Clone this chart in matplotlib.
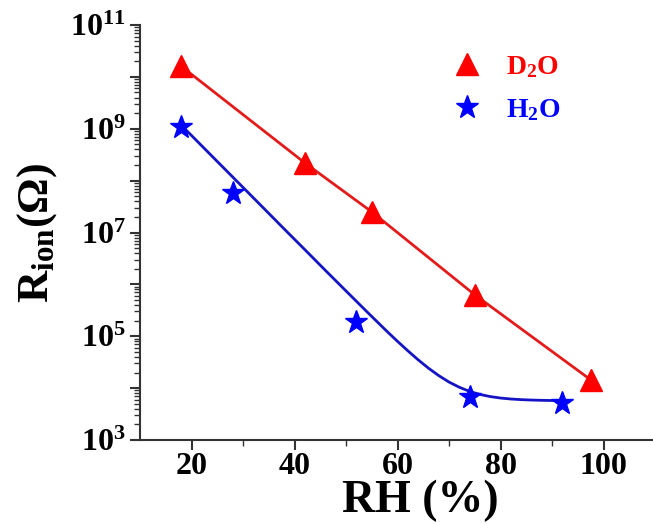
import numpy as np
import matplotlib
matplotlib.use("Agg")
import matplotlib.pyplot as plt
from matplotlib.ticker import LogLocator, FixedLocator, NullFormatter, FuncFormatter

plt.rcParams["font.family"] = ["Liberation Serif", "DejaVu Serif"]
plt.rcParams["font.weight"] = "bold"
plt.rcParams["mathtext.fontset"] = "custom"
plt.rcParams["mathtext.rm"] = "Liberation Serif:bold"
plt.rcParams["mathtext.bf"] = "Liberation Serif:bold"
plt.rcParams["mathtext.it"] = "Liberation Serif:bold"
plt.rcParams["mathtext.default"] = "bf"

# data
rh_d2o = [18, 42, 55, 75, 97.5]
r_d2o = [1.6e10, 2.2e8, 2.5e7, 6.3e5, 1.45e4]
rh_h2o = [18, 28, 52, 74, 92]
r_h2o = [1.1e9, 5.8e7, 1.9e5, 6.8e3, 5.2e3]

# fitted H2O curve (exp. decay fit in the original)
fit_rh = [18, 22, 26, 30, 34, 38, 42, 46, 50, 54, 58, 60, 62, 64, 66, 68,
          70, 72, 74, 76, 78, 80, 82, 84, 86, 88, 90, 92]
fit_r = [1.175e9, 4.68e8, 1.86e8, 7.41e7, 2.95e7, 1.17e7, 4.68e6, 1.86e6,
         7.47e5, 3.01e5, 1.23e5, 7.98e4, 5.25e4, 3.52e4, 2.43e4, 1.745e4,
         1.31e4, 1.04e4, 8.65e3, 7.56e3, 6.875e3, 6.44e3, 6.17e3, 6.0e3,
         5.89e3, 5.82e3, 5.77e3, 5.75e3]

fig = plt.figure(figsize=(6.53, 5.24), dpi=100)
ax = fig.add_axes([140 / 653, 1 - 440 / 524, 515 / 653, 415 / 524])

ax.plot(rh_d2o, r_d2o, color="#e31b1b", lw=2)
ax.plot(rh_d2o, r_d2o, ls="none", marker="^", ms=16, color="#ff0000", label="D$_2$O")

ax.plot(fit_rh, fit_r, color="#1414c4", lw=2)
ax.plot(rh_h2o, r_h2o, ls="none", marker="*", ms=17, color="#0000ff", label="H$_2$O")

ax.set_yscale("log")
ax.set_xlim(10, 110)
ax.set_ylim(1e3, 1e11)

ax.xaxis.set_major_locator(FixedLocator([20, 40, 60, 80, 100]))
ax.xaxis.set_minor_locator(FixedLocator([30, 50, 70, 90]))
ax.yaxis.set_major_locator(FixedLocator([10.0 ** k for k in range(3, 12)]))
ax.yaxis.set_minor_locator(LogLocator(base=10, subs=np.arange(2, 10), numticks=20))
ax.yaxis.set_minor_formatter(NullFormatter())

def yfmt(v, pos):
    k = int(round(np.log10(v)))
    return "$10^{%d}$" % k if k % 2 == 1 else ""

ax.yaxis.set_major_formatter(FuncFormatter(yfmt))

for s in ["top", "right"]:
    ax.spines[s].set_visible(False)
for s in ["left", "bottom"]:
    ax.spines[s].set_linewidth(1.5)
    ax.spines[s].set_color("#333333")

ax.tick_params(axis="both", which="major", direction="out", length=7, width=1.5,
               labelsize=23, colors="#333333", labelcolor="black")
ax.tick_params(axis="both", which="minor", direction="out", length=4, width=1.0,
               colors="#333333")
ax.tick_params(axis="x", pad=2)

ax.set_xlabel("RH (%)", fontsize=33, fontweight="bold")
ax.xaxis.set_label_coords(0.545, -0.095)
ax.set_ylabel("R$_{ion}$(Ω)", fontsize=32, fontweight="bold", labelpad=8)

leg = ax.legend(loc="upper left", bbox_to_anchor=(0.555, 0.99), frameon=False,
                fontsize=20, handletextpad=0.8, labelspacing=0.6, handlelength=1.2)
for txt, c in zip(leg.get_texts(), ["#ff0000", "#0000ff"]):
    txt.set_color(c)

fig.savefig("out.png", dpi=100)
